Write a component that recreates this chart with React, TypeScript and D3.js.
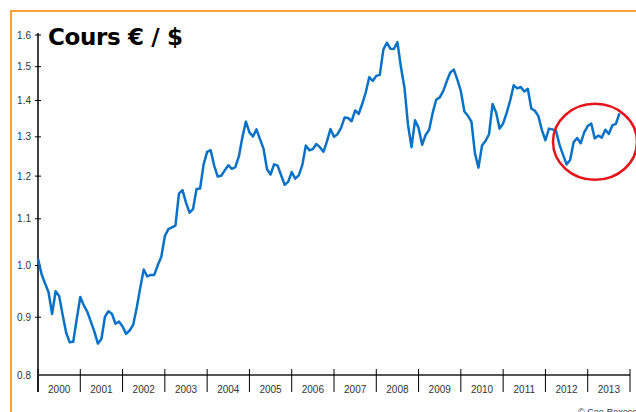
import React from "react";
import * as d3 from "d3";

const startYear = 2000;
const yearLabels = ["2000","2001","2002","2003","2004","2005","2006","2007","2008","2009","2010","2011","2012","2013"];
const yTicks = [0.8, 0.9, 1.0, 1.1, 1.2, 1.3, 1.4, 1.5, 1.6];
const yTickLabels = ["0.8","0.9","1.0","1.1","1.2","1.3","1.4","1.5","1.6"];

// Monthly EUR/USD rate, Jan 2000 – Oct 2013
const rates2000 = [1.014, 0.983, 0.964, 0.947, 0.906, 0.949, 0.940, 0.904, 0.872, 0.855, 0.856, 0.897];
const rates2001 = [0.938, 0.922, 0.910, 0.892, 0.874, 0.853, 0.861, 0.901, 0.911, 0.906, 0.888, 0.892];
const rates2002 = [0.883, 0.870, 0.876, 0.886, 0.917, 0.955, 0.992, 0.978, 0.981, 0.981, 1.001, 1.018];
const rates2003 = [1.062, 1.077, 1.081, 1.085, 1.158, 1.166, 1.137, 1.114, 1.122, 1.169, 1.170, 1.229];
const rates2004 = [1.261, 1.265, 1.226, 1.199, 1.201, 1.214, 1.227, 1.218, 1.222, 1.249, 1.299, 1.341];
const rates2005 = [1.312, 1.301, 1.320, 1.294, 1.269, 1.217, 1.204, 1.229, 1.226, 1.202, 1.179, 1.186];
const rates2006 = [1.210, 1.194, 1.202, 1.227, 1.277, 1.265, 1.268, 1.281, 1.273, 1.261, 1.288, 1.321];
const rates2007 = [1.300, 1.307, 1.324, 1.352, 1.351, 1.342, 1.372, 1.362, 1.390, 1.423, 1.468, 1.457];
const rates2008 = [1.472, 1.475, 1.553, 1.575, 1.556, 1.555, 1.577, 1.498, 1.437, 1.332, 1.273, 1.345];
const rates2009 = [1.324, 1.279, 1.305, 1.319, 1.365, 1.402, 1.409, 1.427, 1.456, 1.482, 1.491, 1.461];
const rates2010 = [1.427, 1.369, 1.357, 1.341, 1.257, 1.221, 1.277, 1.289, 1.307, 1.390, 1.366, 1.322];
const rates2011 = [1.336, 1.365, 1.400, 1.444, 1.435, 1.439, 1.426, 1.434, 1.377, 1.371, 1.356, 1.318];
const rates2012 = [1.291, 1.322, 1.320, 1.316, 1.279, 1.253, 1.229, 1.240, 1.286, 1.297, 1.283, 1.312];
const rates2013 = [1.329, 1.336, 1.296, 1.303, 1.298, 1.319, 1.308, 1.331, 1.335, 1.364];

const monthlyRates = [
  ...rates2000, ...rates2001, ...rates2002, ...rates2003, ...rates2004,
  ...rates2005, ...rates2006, ...rates2007, ...rates2008, ...rates2009,
  ...rates2010, ...rates2011, ...rates2012, ...rates2013,
];

const W = 636;
const H = 412;
const left = 38;
const right = 630;
const top = 35;
const bottom = 375;

export default function App() {
  const x = d3.scaleLinear().domain([0, yearLabels.length * 12]).range([left, right]);
  const y = d3.scaleLog().domain([0.8, 1.6]).range([bottom, top]);
  const line = d3
    .line<number>()
    .x((_, i) => x(i))
    .y((d) => y(d));
  const path = line(monthlyRates) || "";

  // highlight ellipse around the last ~15 months
  const hlStart = (2012 - startYear) * 12 + 6;
  const hlEnd = monthlyRates.length - 1;
  const cx = (x(hlStart) + x(hlEnd)) / 2 + 2;
  const hlVals = monthlyRates.slice(hlStart);
  const cy = (y(d3.min(hlVals)!) + y(d3.max(hlVals)!)) / 2 + 3;

  return (
    <svg
      width={W}
      height={H}
      style={{ position: "absolute", left: 0, top: 0, background: "#fff" }}
      fontFamily="'Liberation Sans', Arial, sans-serif"
    >
      <rect x={0} y={0} width={W} height={H} fill="#fff" />
      <rect x={11} y={11} width={700} height={500} fill="none" stroke="#f7a233" strokeWidth={2} />

      {/* Y axis */}
      <line x1={left} x2={left} y1={33} y2={392} stroke="#000" strokeWidth={1.5} />
      {yTicks.map((t, i) => (
        <g key={t}>
          {i > 0 && <line x1={left - 3} x2={left + 3} y1={y(t)} y2={y(t)} stroke="#000" strokeWidth={1} />}
          <text x={31} y={y(t) + 3.5} fontSize={10} textAnchor="end" fill="#333">
            {yTickLabels[i]}
          </text>
        </g>
      ))}

      {/* X axis */}
      <line x1={left} x2={right} y1={bottom} y2={bottom} stroke="#555" strokeWidth={2} />
      {yearLabels.map((lab, i) => (
        <g key={lab}>
          <line x1={x(i * 12)} x2={x(i * 12)} y1={369} y2={392} stroke="#000" strokeWidth={1} />
          <text x={x(i * 12 + 6)} y={393} fontSize={10} textAnchor="middle" fill="#333">
            {lab}
          </text>
        </g>
      ))}
      <line x1={right} x2={right} y1={369} y2={392} stroke="#000" strokeWidth={1} />

      {/* Series */}
      <path d={path} fill="none" stroke="#0a72c6" strokeWidth={2.5} strokeLinejoin="round" />

      {/* Highlight ellipse */}
      <ellipse cx={cx} cy={cy} rx={42} ry={38} fill="none" stroke="#e5141b" strokeWidth={2.5} />

      {/* Title */}
      <text x={48} y={45} fontFamily="'DejaVu Sans', Verdana, sans-serif" fontWeight="bold" fontSize={23} textLength={135} fill="#000">
        Cours € / $
      </text>

      <text x={578} y={415} fontSize={9} fill="#333">© Coe-Rexecode</text>
    </svg>
  );
}
